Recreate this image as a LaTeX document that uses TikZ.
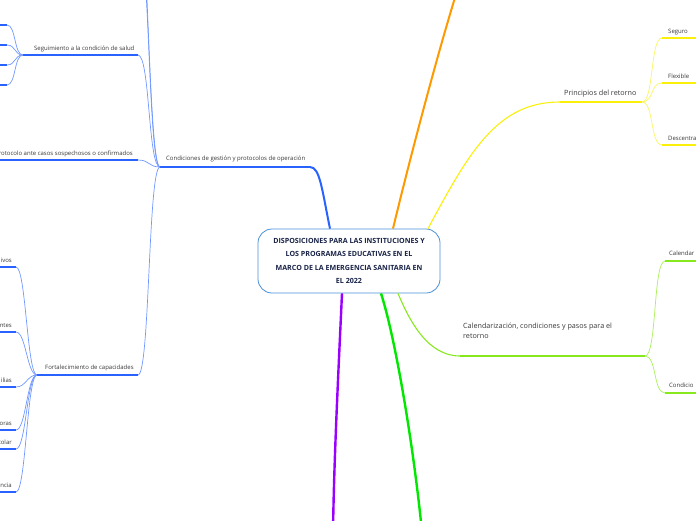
\documentclass[tikz,border=0pt]{standalone}
\usepackage{fontspec}
\setmainfont{Open Sans}
\usepackage{tikz}
\usetikzlibrary{calc,positioning}
\definecolor{rootblue}{RGB}{74,144,217}
\definecolor{rootnavy}{RGB}{24,34,70}
\definecolor{mmblue}{RGB}{41,98,255}
\definecolor{mmbluelt}{RGB}{112,152,255}
\definecolor{mmorange}{RGB}{255,153,0}
\definecolor{mmyellow}{RGB}{250,240,10}
\definecolor{mmyellowlt}{RGB}{250,245,100}
\definecolor{mmlime}{RGB}{135,232,30}
\definecolor{mmlimelt}{RGB}{170,240,90}
\definecolor{mmgreen}{RGB}{0,232,0}
\definecolor{mmpurple}{RGB}{153,0,255}
\definecolor{labelgray}{RGB}{55,55,55}

\begin{document}
\begin{tikzpicture}[
  x=1pt, y=-1pt,
  root/.style={draw=rootblue, line width=0.8pt, rounded corners=14pt, minimum width=182pt,
    minimum height=64pt, align=center, text=rootnavy,
    font=\fontsize{7.1}{13.6}\selectfont\bfseries},
  lbl/.style={inner sep=0, text=labelgray, font=\fontsize{6}{7}\selectfont},
  midlbl/.style={inner sep=0, text=labelgray, align=left, font=\fontsize{7.2}{10}\selectfont},
  trunk/.style={line width=2pt},
  bar/.style={line width=1.7pt},
  twig/.style={line width=0.7pt}
]
\useasboundingbox (0,0) rectangle (696,520);
\clip (0,0) rectangle (696,520);

% centre
\node[root] (root) at (349,261) {DISPOSICIONES PARA LAS INSTITUCIONES Y\\LOS PROGRAMAS EDUCATIVAS EN EL\\MARCO DE LA EMERGENCIA SANITARIA EN\\EL 2022};

% branches leaving the picture
\coordinate (orange-end) at (458,-12);
\coordinate (green-end) at (422,532);
\coordinate (purple-end) at (333,532);
\draw[mmorange, trunk] ([xshift=44]root.north) .. controls (412,150) and (440,45) .. (orange-end);
\draw[mmgreen, trunk, line width=2.4pt] ([xshift=32]root.south) .. controls (396,340) and (414,450) .. (green-end);
\draw[mmpurple, trunk, line width=2.4pt] ([xshift=-7]root.south) .. controls (338,380) and (334,460) .. (purple-end);

% Principios del retorno
\coordinate (prin-l) at (560,102);
\coordinate (prin-r) at (642,102);
\node[midlbl, anchor=base west] (prin) at (564,95) {Principios del retorno};
\draw[mmyellow, line width=1.1pt] ([xshift=79]root.north) .. controls (470,150) and (498,102) .. (prin-l);
\draw[mmyellow, bar] (prin-l) -- (prin-r);
\foreach \name/\txt/\yy in {seg/Seguro/38, flex/Flexible/83, desc/Descentra/145}{
  \coordinate (\name-l) at (662,\yy);
  \node[lbl, anchor=base west] (\name) at (668,\yy-5) {\txt};
  \draw[mmyellowlt, twig] (prin-r) .. controls +(12,0) and +(-12,0) .. (\name-l);
  \draw[mmyellow, bar] (\name-l) -- ++(40,0);
}

% Calendarizacion
\coordinate (cal-l) at (460,356);
\coordinate (cal-r) at (645,356);
\node[midlbl, anchor=base west] (cal) at (463,338.5) {Calendarización, condiciones y pasos para el\\retorno};
\draw[mmlime, line width=1.1pt] ([xshift=49]root.south) .. controls (410,322) and (428,356) .. (cal-l);
\draw[mmlime, bar] (cal-l) -- (cal-r);
\foreach \name/\txt/\yy in {calf/Calendar/261, cond/Condicio/393}{
  \coordinate (\name-l) at (665,\yy);
  \node[lbl, anchor=base west] (\name) at (669,\yy-6) {\txt};
  \draw[mmlimelt, twig] (cal-r) .. controls +(12,0) and +(-12,0) .. (\name-l);
  \draw[mmlime, bar] (\name-l) -- ++(40,0);
}

% Condiciones de gestion y protocolos de operacion
\coordinate (cgp-l) at (160,167);
\coordinate (cgp-r) at (310,167);
\node[lbl, anchor=base west] (cgp) at (166,160.5) {Condiciones de gestión y protocolos de operación};
\draw[mmblue, trunk] ([xshift=-19]root.north) .. controls (322,190) and (320,167) .. (cgp-r);
\draw[mmblue, bar] (cgp-l) -- (cgp-r);

% two twigs going out at the top
\coordinate (up-a) at (138,-60);
\coordinate (up-b) at (136,-120);
\draw[mmbluelt, twig] (cgp-l) .. controls +(-12,0) and +(12,0) .. (up-a);
\draw[mmbluelt, twig] (cgp-l) .. controls +(-12,0) and +(12,0) .. (up-b);

% Seguimiento a la condicion de salud
\coordinate (sal-l) at (23,55);
\coordinate (sal-r) at (138,55);
\node[lbl, anchor=base west] (sal) at (34,50) {Seguimiento a la condición de salud};
\draw[mmbluelt, twig] (cgp-l) .. controls +(-12,0) and +(12,0) .. (sal-r);
\draw[mmblue, bar] (sal-l) -- (sal-r);
\foreach \yy in {25,45,65,85}{
  \coordinate (sal-\yy) at (7,\yy);
  \draw[mmbluelt, twig] (sal-l) .. controls +(-9,0) and +(9,0) .. (sal-\yy);
  \draw[mmblue, bar] (sal-\yy) -- ++(-10,0);
}

% protocolo
\coordinate (pro-r) at (138,160);
\node[lbl, anchor=base east] (pro) at (133,155.5) {rotocolo ante casos sospechosos o confirmados};
\draw[mmbluelt, twig] (cgp-l) .. controls +(-12,0) and +(12,0) .. (pro-r);
\draw[mmblue, bar] (pro-r) -- ++(-140,0);

% Fortalecimiento de capacidades
\coordinate (for-l) at (37,375);
\coordinate (for-r) at (138,375);
\node[lbl, anchor=base west] (for) at (45,369) {Fortalecimiento de capacidades};
\draw[mmbluelt, twig] (cgp-l) .. controls +(-12,0) and +(12,0) .. (for-r);
\draw[mmblue, bar] (for-l) -- (for-r);
\foreach \name/\txt/\yy in {fa/ivos/267, fb/ntes/332, fc/ilias/387, fd/oras/430, fe/colar/449, ff/encia/492}{
  \coordinate (\name-r) at (16,\yy);
  \node[lbl, anchor=base east] (\name) at (12,\yy-5) {\txt};
  \draw[mmbluelt, twig] (for-l) .. controls +(-10,0) and +(10,0) .. (\name-r);
  \draw[mmblue, bar] (\name-r) -- ++(-20,0);
}
\end{tikzpicture}
\end{document}
